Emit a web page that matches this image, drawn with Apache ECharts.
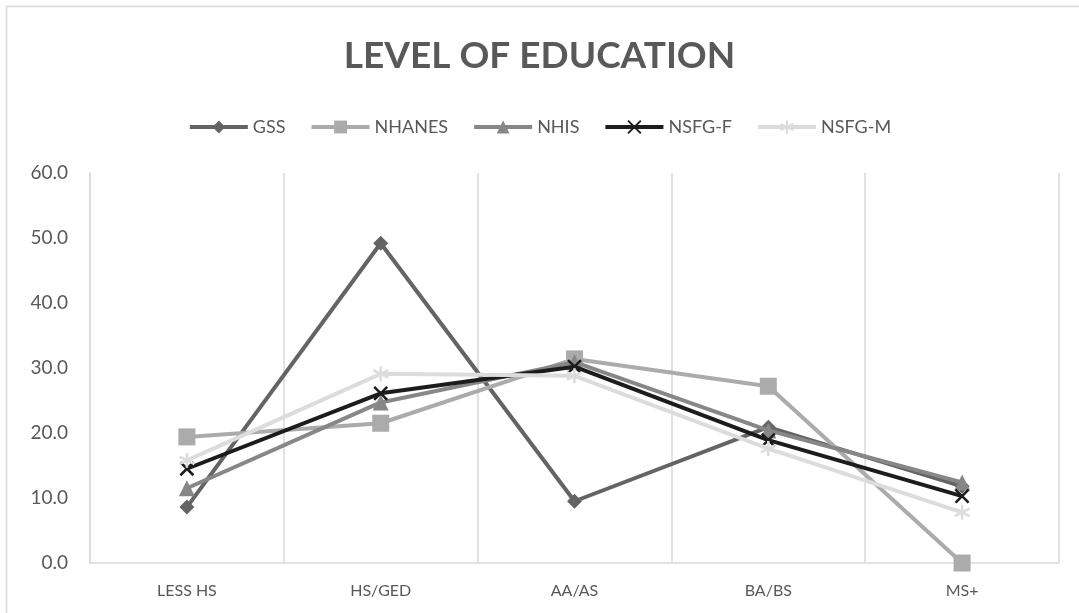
<!DOCTYPE html>
<html><head><meta charset="utf-8">
<script src="https://cdn.jsdelivr.net/npm/echarts@6/dist/echarts.min.js"></script>
<style>html,body{margin:0;padding:0;background:#fff}#c{width:1079px;height:613px}</style>
</head><body><div id="c"></div>
<script>
const categories = ['LESS HS', 'HS/GED', 'AA/AS', 'BA/BS', 'MS+'];
const yTicks = [0, 10, 20, 30, 40, 50, 60];
const gss    = [8.6, 49.2, 9.5, 20.9, 11.8];
const nhanes = [19.4, 21.5, 31.4, 27.2, 0.0];
const nhis   = [11.5, 24.7, 30.9, 20.4, 12.4];
const nsfgF  = [14.5, 26.1, 30.2, 18.9, 10.3];
const nsfgM  = [15.8, 29.1, 28.8, 17.6, 7.8];

const names = ['GSS', 'NHANES', 'NHIS', 'NSFG-F', 'NSFG-M'];
const values = [gss, nhanes, nhis, nsfgF, nsfgM];
const colors = ['#646464', '#ababab', '#878787', '#1c1c1c', '#dcdcdc'];
const starPath = 'path://M0,-10L0,10M-8.66,-5L8.66,5M-8.66,5L8.66,-5';
const xPath = 'path://M-7,-7L7,7M-7,7L7,-7';
const symbols = ['diamond', 'rect', 'triangle', xPath, starPath];
const symSizes = [15, 17, 16, 13, 15];

const chart = echarts.init(document.getElementById('c'));
const font = 'Lato, "Open Sans", sans-serif';
chart.setOption({
  animation: false,
  backgroundColor: '#fff',
  graphic: [{
    type: 'rect', shape: {x: 6.5, y: 6.5, width: 1200, height: 800},
    style: {fill: 'none', stroke: '#d9d9d9', lineWidth: 1.5}, silent: true
  }],
  title: {
    text: 'LEVEL OF EDUCATION', left: 'center', top: 33,
    textStyle: {fontFamily: font, fontWeight: 'bold', fontSize: 37, color: '#595959'}
  },
  legend: {
    top: 113, left: 'center', itemWidth: 58, itemHeight: 16, itemGap: 24,
    data: names,
    lineStyle: {width: 4},
    textStyle: {fontFamily: font, fontSize: 18, color: '#595959'}
  },
  grid: {left: 90, right: 20, top: 173, bottom: 50, containLabel: false},
  xAxis: {
    type: 'category', data: categories, boundaryGap: true,
    axisLine: {show: true, lineStyle: {color: '#d9d9d9', width: 1.5}},
    axisTick: {show: false},
    splitLine: {show: true, lineStyle: {color: '#d9d9d9', width: 1.5}},
    axisLabel: {fontFamily: font, fontSize: 16, color: '#595959', margin: 20}
  },
  yAxis: {
    type: 'value', min: yTicks[0], max: yTicks[yTicks.length - 1], interval: 10,
    axisLine: {show: true, lineStyle: {color: '#d9d9d9', width: 1.5}},
    axisTick: {show: false},
    splitLine: {show: false},
    axisLabel: {fontFamily: font, fontSize: 19, color: '#595959', margin: 22,
      formatter: v => v.toFixed(1)}
  },
  series: names.map((n, i) => ({
    name: n, type: 'line', data: values[i],
    symbol: symbols[i], symbolSize: symSizes[i],
    lineStyle: {color: colors[i], width: 4},
    itemStyle: i >= 3 ? {color: colors[i], borderColor: colors[i], borderWidth: 2.5}
                      : {color: colors[i], borderWidth: 0},
    z: 2 + i
  })),
  color: colors
});
</script></body></html>
